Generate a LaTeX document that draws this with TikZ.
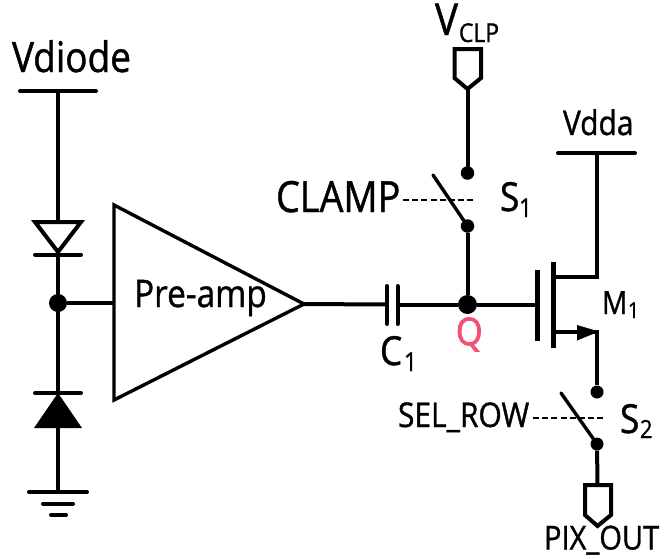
\documentclass[tikz,border=0pt]{standalone}
\usepackage{fontspec}
\setmainfont{Open Sans}[FakeStretch=0.88,FakeBold=1.0]
\newfontfamily\qfont{Open Sans}[FakeStretch=0.9,FakeBold=2.2]
\newcommand{\fs}[1]{\fontsize{#1}{#1}\selectfont}
\tikzset{
  wire/.style={line width=4pt,draw=black,line cap=round,line join=miter},
  thinwire/.style={line width=3.4pt,draw=black,line cap=round},
  ctrl/.style={line width=1.3pt,draw=black,dash pattern=on 6pt off 3.2pt},
  dot/.style={circle,fill=black,draw=none,inner sep=0pt},
  lab/.style={anchor=base west,inner sep=0pt,outer sep=0pt,text=black}
}
\begin{document}
\begin{tikzpicture}[x=1pt,y=-1pt]
\useasboundingbox (0,0) rectangle (664,558);
% named points
\coordinate (vdL) at (20,91); \coordinate (vdR) at (96,91); \coordinate (vdM) at (58,91);
\coordinate (d1L) at (35,222); \coordinate (d1R) at (81,222); \coordinate (d1T) at (58,222); \coordinate (d1A) at (58,252);
\coordinate (d1bL) at (35,254.5); \coordinate (d1bR) at (81,254.5); \coordinate (d1B) at (58,254.5);
\node[dot,minimum size=18pt] (J) at (58,303) {};
\coordinate (ampA) at (114,205); \coordinate (ampB) at (114,400); \coordinate (ampC) at (304,304); \coordinate (ampIn) at (114,303);
\coordinate (d2bL) at (35,393); \coordinate (d2bR) at (81,393); \coordinate (d2A) at (58,393);
\coordinate (d2L) at (34,428); \coordinate (d2R) at (82,428); \coordinate (d2B) at (58,427);
\coordinate (g1L) at (29,492); \coordinate (g1R) at (87,492); \coordinate (g1M) at (58,492);
\coordinate (g2L) at (43,503.5); \coordinate (g2R) at (73,503.5);
\coordinate (g3L) at (51,515); \coordinate (g3R) at (66,515);
\coordinate (c1T) at (387,286); \coordinate (c1B) at (387,324); \coordinate (c1M) at (387,304.5);
\coordinate (c2T) at (397.5,286); \coordinate (c2B) at (397.5,324); \coordinate (c2M) at (397.5,304.5);
\node[dot,minimum size=19pt] (Qd) at (467.5,304.5) {};
\coordinate (gT) at (537.5,270); \coordinate (gB) at (537.5,341); \coordinate (gM) at (537.5,304.5);
\coordinate (chT) at (553,262); \coordinate (chB) at (553,348); \coordinate (dS) at (553,277); \coordinate (sS) at (553,332);
\coordinate (dE) at (597,277); \coordinate (sE) at (597,332);
\coordinate (vaL) at (558,153); \coordinate (vaR) at (635,153); \coordinate (vaM) at (597,153);
\node[dot,minimum size=13.5pt] (s1t) at (467.5,173) {};
\node[dot,minimum size=13.5pt] (s1b) at (467.5,226) {};
\coordinate (s1o) at (433,175);
\coordinate (s1dL) at (403,200); \coordinate (s1dR) at (473,200);
\coordinate (pcT) at (467.5,49); \coordinate (pcA) at (467.5,89);
\node[dot,minimum size=13pt] (s2t) at (597,392) {};
\node[dot,minimum size=13pt] (s2b) at (597,444) {};
\coordinate (s2o) at (561,393);
\coordinate (s2dL) at (533,418); \coordinate (s2dR) at (603,418);
\coordinate (poT) at (597.5,485); \coordinate (poA) at (597.5,526);
% Vdiode rail and diodes
\draw[wire] (vdL) -- (vdR);
\draw[wire] (vdM) -- (d1T);
\draw[wire] (d1L) -- (d1R) -- (d1A) -- cycle;
\draw[wire] (d1bL) -- (d1bR);
\draw[wire] (d1B) -- (J) -- (d2A);
\draw[thinwire,line cap=butt] (J) -- (ampIn);
\draw[wire] (d2bL) -- (d2bR);
\fill[black] (d2A) -- (d2R) -- (d2L) -- cycle;
\draw[wire] (d2B) -- (g1M);
\draw[wire] (g1L) -- (g1R);
\draw[wire] (g2L) -- (g2R);
\draw[wire] (g3L) -- (g3R);
% Pre-amp
\draw[thinwire,line cap=butt,line join=miter] (ampA) -- (ampC) -- (ampB) -- cycle;
\node[lab,font=\fs{38}] (preamp) at (134,307) {Pre-amp};
% C1
\draw[wire,line cap=butt] (ampC) -- (c1M);
\draw[wire] (c1T) -- (c1B);
\draw[wire] (c2T) -- (c2B);
\draw[wire,line cap=butt] (c2M) -- (Qd);
\draw[wire,line cap=butt] (Qd) -- (gM);
% S1
\draw[wire] (pcA) -- (s1t);
\draw[wire,line cap=butt] (s1b) -- (Qd);
\draw[thinwire] (s1o) -- (s1b);
\draw[ctrl] (s1dL) -- (s1dR);
\draw[wire] (454.5,49) -- (481,49) -- (481,78) -- (pcA) -- (454.5,78) -- cycle;
% transistor
\draw[line width=5pt,draw=black] (gT) -- (gB);
\draw[line width=5pt,draw=black] (chT) -- (chB);
\draw[wire,line cap=butt] (vaM) -- (dE) -- (dS);
\draw[wire] (vaL) -- (vaR);
\draw[wire,line cap=butt] (sS) -- (sE);
\draw[wire,line cap=butt] (sE) ++(0,-2) -- (s2t);
\fill[black] (599,331.5) -- (577,325) -- (577,340.5) -- cycle;
% S2
\draw[thinwire] (s2o) -- (s2b);
\draw[ctrl] (s2dL) -- (s2dR);
\draw[wire,line cap=butt] (s2b) -- (poT);
\draw[wire] (585,485) -- (611,485) -- (611,515) -- (poA) -- (585,515) -- cycle;
% labels
\node[lab,font=\fs{42}] (tVd) at (12,72) {Vdiode};
\node[lab,font=\fs{44}] (tV) at (435,35) {V};
\node[lab,font=\fs{26}] (tCLP) at (459,42) {CLP};
\node[lab,font=\fs{34}] (tVdda) at (563,135) {Vdda};
\node[lab,font=\fs{43}] (tCL) at (276,212) {CLAMP};
\node[lab,font=\fs{40}] (tS1) at (500,211) {S};
\node[lab,font=\fs{26}] (tS1s) at (519,217) {1};
\node[lab,font=\fs{32}] (tM) at (602,314) {M};
\node[lab,font=\fs{22}] (tMs) at (628,318) {1};
\node[lab,font=\fs{40}] (tC) at (380,365) {C};
\node[lab,font=\fs{26}] (tCs) at (404,371) {1};
\node[lab,font=\qfont\fs{38}] (tQ) [text={rgb,255:red,245;green,80;blue,115}] at (456,345) {Q};
\node[lab,font=\fs{34}] (tSel) at (398,427) {SEL\_ROW};
\node[lab,font=\fs{40}] (tS2) at (620,433) {S};
\node[lab,font=\fs{25}] (tS2s) at (640,438) {2};
\node[lab,font=\fs{33}] (tPix) at (544,549.5) {PIX\_OUT};
\end{tikzpicture}
\end{document}
